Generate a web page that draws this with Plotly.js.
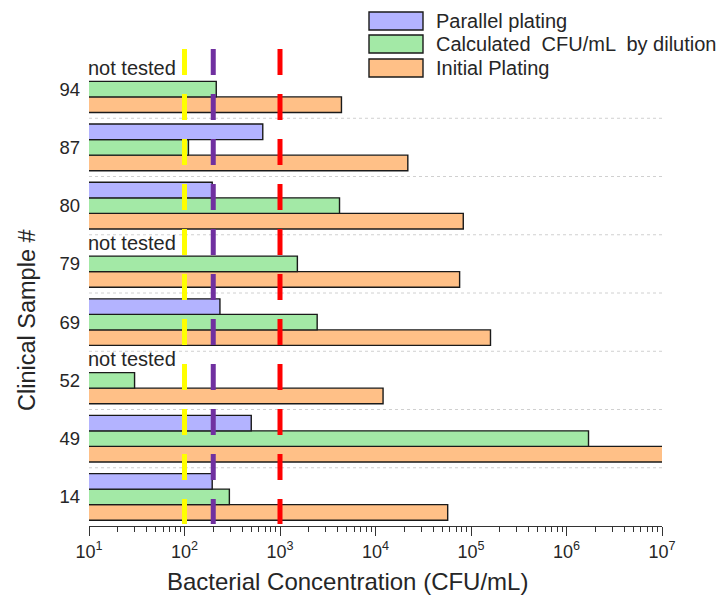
<!DOCTYPE html>
<html>
<head>
<meta charset="utf-8">
<script src="https://cdn.plot.ly/plotly-3.0.1.min.js"></script>
<style>html,body{margin:0;padding:0;background:#fff;}#chart{width:724px;height:595px;}</style>
</head>
<body>
<div id="chart"></div>
<script>
// ---- data (bottom to top) ----
const samples = ['14', '49', '52', '69', '79', '80', '87', '94'];
const parallelPlating = [195, 500, null, 235, null, 195, 660, null];
const calculatedByDilution = [295, 1700000, 30, 2450, 1520, 4200, 110, 215];
const initialPlating = [57000, 11000000, 12000, 160000, 76000, 83000, 21800, 4400];
const seriesNames = ['Parallel plating', 'Calculated  CFU/mL  by dilution', 'Initial Plating'];
const seriesColors = ['#b3b3ff', '#a3e9a6', '#ffc087'];
const thresholdValues = [100, 200, 1000];
const thresholdColors = ['#ffff00', '#7030a0', '#ff0000'];
const xTickExponents = [1, 2, 3, 4, 5, 6, 7];
const xTickVals = xTickExponents.map(e => Math.pow(10, e));
const xTickText = xTickExponents.map(e => '10<sup>' + e + '</sup>');
const xTitle = 'Bacterial Concentration (CFU/mL)';
const yTitle = 'Clinical Sample #';
const missingLabel = 'not tested';

const FONT = 'Liberation Sans, Arial, sans-serif';
const TXT = '#262626';
const lineStyle = {color: '#1a1a1a', width: 1.4};

// plot geometry (pixels)
const W = 724, H = 595, ML = 89, MR = 62, MT = 47, MB = 69;
const PW = W - ML - MR, PH = H - MT - MB;
const px2x = p => (p - ML) / PW;
const py2y = p => (H - MB - p) / PH;
const yRange = [-0.5, 7.5 + 13 / 58.25];
const cat2paper = i => (i - yRange[0]) / (yRange[1] - yRange[0]);

const traces = [
  {type: 'bar', orientation: 'h', name: seriesNames[2], y: samples, x: initialPlating,
   marker: {color: seriesColors[2], line: lineStyle}, showlegend: false},
  {type: 'bar', orientation: 'h', name: seriesNames[1], y: samples, x: calculatedByDilution,
   marker: {color: seriesColors[1], line: lineStyle}, showlegend: false},
  {type: 'bar', orientation: 'h', name: seriesNames[0], y: samples, x: parallelPlating,
   marker: {color: seriesColors[0], line: lineStyle}, showlegend: false}
];

const shapes = [];
// dotted separators between categories
for (let i = 0; i < samples.length - 1; i++) {
  shapes.push({type: 'line', xref: 'paper', yref: 'y', x0: 0, x1: 1, y0: i + 0.5, y1: i + 0.5,
    line: {color: '#d0d0d0', width: 1, dash: 'dot'}, layer: 'below'});
}
// dashed threshold lines
thresholdValues.forEach((v, k) => {
  shapes.push({type: 'line', xref: 'x', yref: 'paper', x0: v, x1: v, y0: py2y(49), y1: py2y(524),
    line: {color: thresholdColors[k], width: 5, dash: '26px,19px'}, layer: 'above'});
});

const annotations = [];
samples.forEach((s, i) => {
  if (parallelPlating[i] === null) {
    annotations.push({x: 0, y: cat2paper(i), xref: 'paper', yref: 'paper', text: missingLabel,
      showarrow: false, xanchor: 'left', yanchor: 'middle', yshift: 21, xshift: -3,
      font: {family: FONT, size: 20, color: TXT}});
  }
});

// legend (swatches + labels, top right)
const legendRows = [21, 44, 68];
seriesNames.forEach((name, k) => {
  const cy = legendRows[k];
  shapes.push({type: 'rect', xref: 'paper', yref: 'paper',
    x0: px2x(369), x1: px2x(423), y0: py2y(cy - 9), y1: py2y(cy + 9),
    fillcolor: seriesColors[k], line: {color: '#1a1a1a', width: 1.4}, layer: 'above'});
  annotations.push({xref: 'paper', yref: 'paper', x: px2x(434), y: py2y(cy), text: name,
    showarrow: false, xanchor: 'left', yanchor: 'middle',
    font: {family: FONT, size: 20, color: TXT}});
});

// axis titles
annotations.push({xref: 'paper', yref: 'paper', x: px2x(347.5), y: py2y(581), text: xTitle,
  showarrow: false, xanchor: 'center', yanchor: 'middle',
  font: {family: FONT, size: 24, color: TXT}});
annotations.push({xref: 'paper', yref: 'paper', x: px2x(27), y: py2y(320), text: yTitle,
  showarrow: false, xanchor: 'center', yanchor: 'middle', textangle: -90,
  font: {family: FONT, size: 23.5, color: TXT}});

const layout = {
  width: W, height: H,
  margin: {l: ML, r: MR, t: MT, b: MB},
  paper_bgcolor: '#fff', plot_bgcolor: '#fff',
  barmode: 'group', bargap: 0.2, bargroupgap: 0,
  font: {family: FONT, color: TXT},
  showlegend: false,
  xaxis: {type: 'log', range: [1, 7], tickvals: xTickVals, ticktext: xTickText,
    ticks: 'outside', ticklen: 9, tickwidth: 1, tickcolor: '#333',
    minor: {ticks: 'outside', ticklen: 5, tickcolor: '#333', dtick: 'D1', showgrid: false},
    showline: true, linecolor: '#333', linewidth: 1, showgrid: false, zeroline: false,
    tickfont: {family: FONT, size: 18, color: TXT}},
  yaxis: {type: 'category', categoryorder: 'array', categoryarray: samples, range: yRange,
    ticks: '', showgrid: false, showline: false, zeroline: false, ticklabelstandoff: 8,
    tickfont: {family: FONT, size: 18.5, color: TXT}},
  shapes: shapes,
  annotations: annotations
};

Plotly.newPlot('chart', traces, layout, {displayModeBar: false, staticPlot: true});
</script>
</body>
</html>
